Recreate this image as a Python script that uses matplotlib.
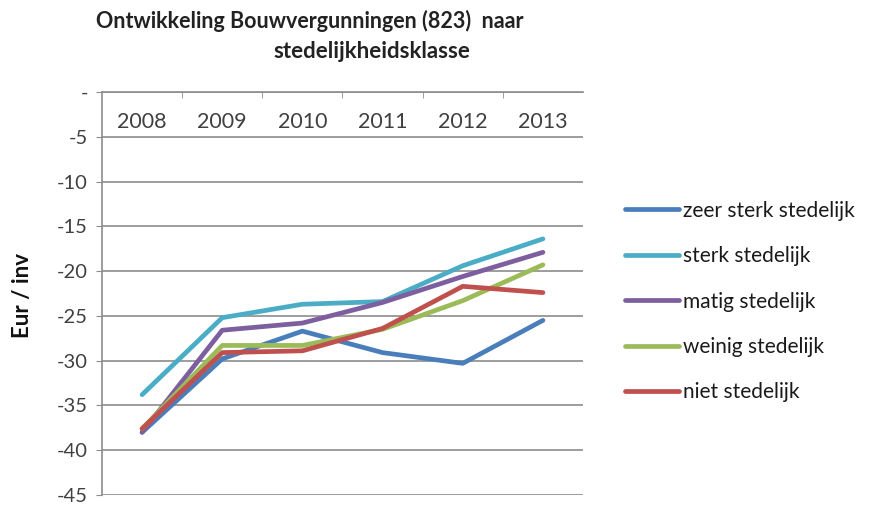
import matplotlib
matplotlib.use("Agg")
import matplotlib.pyplot as plt
from matplotlib.ticker import FixedLocator, FuncFormatter

years = ["2008", "2009", "2010", "2011", "2012", "2013"]
series_names = ["zeer sterk stedelijk", "sterk stedelijk", "matig stedelijk",
                "weinig stedelijk", "niet stedelijk"]
zeer_sterk = [-38.0, -29.8, -26.7, -29.1, -30.3, -25.5]
sterk = [-33.8, -25.2, -23.7, -23.4, -19.4, -16.4]
matig = [-38.0, -26.6, -25.8, -23.5, -20.6, -17.9]
weinig = [-37.6, -28.3, -28.3, -26.5, -23.3, -19.3]
niet = [-37.6, -29.1, -28.9, -26.4, -21.7, -22.4]
yticks = [0, -5, -10, -15, -20, -25, -30, -35, -40, -45]

colors = ["#4a7ebb", "#4bacc6", "#7d5fa0", "#9bbb59", "#c0504d"]
data = [zeer_sterk, sterk, matig, weinig, niet]

plt.rcParams['font.family'] = ['Lato', 'DejaVu Sans']
fig = plt.figure(figsize=(8.69, 5.07), dpi=100)
ax = fig.add_axes([102/869, 12/507, 481/869, 403/507])

x = list(range(len(years)))
for vals, name, c in zip(data, series_names, colors):
    ax.plot(x, vals, color=c, lw=3.4, label=name, solid_capstyle='round')

ax.set_xlim(-0.5, 5.5)
ax.set_ylim(-45, 0)
ax.yaxis.set_major_locator(FixedLocator(yticks))
ax.yaxis.set_major_formatter(FuncFormatter(lambda v, p: "-" if v == 0 else f"{int(v)}"))
ax.grid(axis='y', color='#8c8c8c', lw=1.2)
ax.set_axisbelow(True)

ax.set_xticks(x)
ax.set_xticklabels(years)
ax.set_xticks([i + 0.5 for i in range(5)], minor=True)
ax.xaxis.tick_top()
ax.tick_params(axis='x', which='major', length=0, pad=-29, labelsize=15.5, labelcolor='#404040')
ax.tick_params(axis='x', which='minor', length=4, direction='in', color='#8c8c8c')
ax.tick_params(axis='y', length=4, color='#8c8c8c', labelsize=14.5, labelcolor='#404040', pad=6)

for s in ['right', 'bottom']:
    ax.spines[s].set_visible(False)
for s in ['left', 'top']:
    ax.spines[s].set_color('#8c8c8c')
    ax.spines[s].set_linewidth(1.2)

fig.text(22/869, 1 - 295/507, "Eur / inv", rotation=90, ha='center', va='center',
         fontsize=16, fontweight='bold', color='#111111')

fig.text(310/869, 1 - 21/507, "Ontwikkeling Bouwvergunningen (823)  naar", ha='center', va='center',
         fontsize=15.5, fontweight='bold', color='#222222')
fig.text(372/869, 1 - 51/507, "stedelijkheidsklasse", ha='center', va='center',
         fontsize=16, fontweight='bold', color='#222222')

leg = fig.legend(loc='upper left', bbox_to_anchor=(606/869, 1 - 182/507), frameon=False,
                 fontsize=15, handlelength=2.6, handletextpad=0.2, labelspacing=1.22,
                 labelcolor='#1a1a1a')

fig.savefig("out.png", dpi=100)
